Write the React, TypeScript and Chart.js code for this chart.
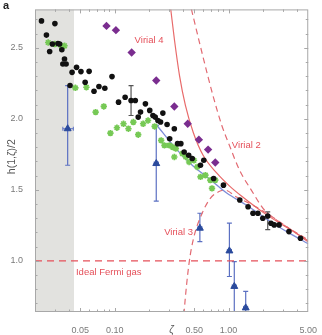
import { useEffect, useRef } from 'react';
import { Chart, registerables } from 'chart.js';

Chart.register(...registerables);

// ---------- axes ----------
const X_MIN = 0.02;
const X_MAX = 5;
const Y_MIN = 0.64;
const Y_MAX = 2.77;
const SHADE_END = 0.044;

const X_TICKS = [0.02, 0.03, 0.04, 0.05, 0.06, 0.07, 0.08, 0.09, 0.1, 0.2, 0.3, 0.4, 0.5, 0.6, 0.7, 0.8, 0.9, 1, 2, 3, 4, 5];
const X_LABEL_VALUES = [0.05, 0.1, 0.5, 1, 5];
const X_LABELS = ['0.05', '0.10', '0.50', '1.00', '5.00'];
const Y_TICKS = [0.7, 0.8, 0.9, 1.0, 1.1, 1.2, 1.3, 1.4, 1.5, 1.6, 1.7, 1.8, 1.9, 2.0, 2.1, 2.2, 2.3, 2.4, 2.5, 2.6, 2.7];
const Y_LABEL_VALUES = [1.0, 1.5, 2.0, 2.5];
const Y_LABELS = ['1.0', '1.5', '2.0', '2.5'];

// ---------- black dots ----------
const BLACK_X = [0.0228, 0.0252, 0.0299, 0.0269, 0.0284, 0.0318, 0.0329, 0.0344, 0.0363, 0.0351, 0.0375, 0.0406, 0.0423, 0.0463, 0.0506, 0.0551, 0.0597, 0.0659, 0.0728, 0.082, 0.0948, 0.1082, 0.1236, 0.1393, 0.1518, 0.161, 0.1687, 0.1862, 0.2032, 0.2168, 0.227, 0.2398, 0.2529, 0.2649, 0.2885, 0.334, 0.304, 0.3565, 0.381, 0.4075, 0.4466, 0.4797, 0.5664, 0.606, 0.739, 0.9015, 1.254, 1.482, 1.637, 1.808, 1.996, 2.205, 2.355, 2.513, 2.774, 3.386, 4.276];
const BLACK_Y = [2.689, 2.589, 2.67, 2.474, 2.526, 2.53, 2.526, 2.486, 2.421, 2.386, 2.386, 2.234, 2.327, 2.362, 2.332, 2.257, 2.334, 2.194, 2.227, 2.215, 2.297, 2.117, 2.152, 2.129, 2.129, 2.012, 2.047, 2.105, 2.059, 2.023, 2.012, 1.988, 1.977, 2.04, 1.96, 1.93, 1.86, 1.825, 1.825, 1.766, 1.743, 1.72, 1.673, 1.708, 1.58, 1.533, 1.428, 1.381, 1.335, 1.335, 1.3, 1.316, 1.265, 1.253, 1.253, 1.206, 1.159];
const BLACK_ERR_X = [0.1393, 2.205];
const BLACK_ERR_LO = [2.023, 1.22];
const BLACK_ERR_HI = [2.234, 1.345];

// ---------- green stars ----------
const GREEN_X = [0.0261, 0.0298, 0.034, 0.0363, 0.0452, 0.0565, 0.0681, 0.0803, 0.0918, 0.1047, 0.1196, 0.1321, 0.1459, 0.161, 0.1778, 0.1964, 0.2244, 0.256, 0.2736, 0.302, 0.323, 0.334, 0.3445, 0.3937, 0.421, 0.45, 0.4969, 0.531, 0.567, 0.626, 0.691, 0.764, 0.715];
const GREEN_Y = [2.537, 2.526, 2.514, 2.514, 2.218, 2.222, 2.047, 2.087, 1.899, 1.937, 1.965, 1.93, 1.977, 1.888, 1.965, 1.988, 1.946, 1.848, 1.813, 1.813, 1.801, 1.731, 1.79, 1.755, 1.731, 1.696, 1.708, 1.661, 1.591, 1.603, 1.568, 1.568, 1.51];

// ---------- purple diamonds ----------
const PURPLE_X = [0.0848, 0.1026, 0.141, 0.2318, 0.334, 0.4377, 0.5485, 0.661, 0.764];
const PURPLE_Y = [2.654, 2.624, 2.467, 2.269, 2.087, 1.965, 1.853, 1.783, 1.692];

// ---------- blue triangles with error bars ----------
const BLUE_X = [0.0387, 0.2318, 0.5597, 1.0165, 1.122, 1.413];
const BLUE_Y = [1.93, 1.685, 1.23, 1.07, 0.82, 0.669];
const BLUE_YLO = [1.673, 1.421, 1.136, 0.89, 0.6, 0.6];
const BLUE_YHI = [2.234, 1.953, 1.335, 1.265, 0.995, 0.785];
const BLUE_XLO = [0.0351, 0.222, 0.537, 0.975, 1.075, 1.355];
const BLUE_XHI = [0.0434, 0.242, 0.583, 1.06, 1.17, 1.47];

// ---------- theory curves ----------
const V4_X = [0.3105, 0.3357, 0.3709, 0.4179, 0.4897, 0.5974, 0.789, 1.021, 1.297, 2.05, 3.3, 5.0];
const V4_Y = [2.773, 2.549, 2.304, 2.094, 1.904, 1.743, 1.617, 1.526, 1.456, 1.336, 1.231, 1.141];
const V2_X = [0.471, 0.598, 0.729, 0.872, 1.0165, 1.248, 1.583, 2.06, 2.7, 5.0];
const V2_Y = [2.773, 2.432, 2.164, 1.953, 1.813, 1.638, 1.498, 1.358, 1.281, 1.148];
const V3_X = [0.4, 0.4075, 0.45, 0.497, 0.586, 0.691, 0.816, 0.924, 1.175, 1.75, 3.17, 5.0];
const V3_Y = [0.55, 0.645, 0.984, 1.171, 1.335, 1.44, 1.486, 1.498, 1.449, 1.379, 1.246, 1.134];
const BLUE_LINE_X = [0.2318, 0.3445, 0.4797, 0.67, 0.962, 1.43, 2.355, 3.5, 5.0];
const BLUE_LINE_Y = [1.96, 1.79, 1.673, 1.58, 1.477, 1.393, 1.274, 1.19, 1.12];
const IDEAL_Y = 1.0;

// ---------- annotations ----------
const TEXT_LABELS = ['Virial 4', 'Virial 2', 'Virial 3', 'Ideal Fermi gas'];
const TEXT_X = [0.2004, 1.43, 0.364, 0.0887];
const TEXT_Y = [2.549, 1.813, 1.197, 0.916];

const FONT = '"Liberation Sans", Arial, sans-serif';
const RED = '#e5505a';
const TICK_COLOR = '#7a7a7a';

const pts = (xs: number[], ys: number[]) => xs.map((x, i) => ({ x, y: ys[i] }));

const decor = {
  id: 'decor',
  beforeDatasetsDraw(chart: any) {
    const { ctx, chartArea: a, scales } = chart;
    const xs = scales.x, ys = scales.y;
    ctx.save();
    ctx.beginPath();
    ctx.rect(a.left, a.top, a.right - a.left, a.bottom - a.top);
    ctx.clip();
    const x0 = xs.getPixelForValue(X_MIN), x1 = xs.getPixelForValue(SHADE_END);
    ctx.fillStyle = '#e2e2df';
    ctx.fillRect(x0, a.top, x1 - x0, a.bottom - a.top);

    const vbar = (xv: number, lo: number, hi: number, color: string, cap: number) => {
      const px = xs.getPixelForValue(xv);
      const p1 = ys.getPixelForValue(lo), p2 = ys.getPixelForValue(hi);
      ctx.strokeStyle = color;
      ctx.lineWidth = 1.2;
      ctx.beginPath();
      ctx.moveTo(px, p1); ctx.lineTo(px, p2);
      ctx.moveTo(px - cap, p1); ctx.lineTo(px + cap, p1);
      ctx.moveTo(px - cap, p2); ctx.lineTo(px + cap, p2);
      ctx.stroke();
    };
    const hbar = (yv: number, lo: number, hi: number, color: string, cap: number) => {
      const py = ys.getPixelForValue(yv);
      const p1 = xs.getPixelForValue(lo), p2 = xs.getPixelForValue(hi);
      ctx.strokeStyle = color;
      ctx.lineWidth = 1;
      ctx.beginPath();
      ctx.moveTo(p1, py); ctx.lineTo(p2, py);
      ctx.moveTo(p1, py - cap); ctx.lineTo(p1, py + cap);
      ctx.moveTo(p2, py - cap); ctx.lineTo(p2, py + cap);
      ctx.stroke();
    };
    BLUE_X.forEach((xv, i) => {
      vbar(xv, BLUE_YLO[i], BLUE_YHI[i], '#5b70c2', 2.5);
      hbar(BLUE_Y[i], BLUE_XLO[i], BLUE_XHI[i], '#5b70c2', 2);
    });
    BLACK_ERR_X.forEach((xv, i) => vbar(xv, BLACK_ERR_LO[i], BLACK_ERR_HI[i], '#555', 2.5));
    ctx.restore();
  },
  afterDraw(chart: any) {
    const { ctx, chartArea: a, scales } = chart;
    const xs = scales.x, ys = scales.y;
    ctx.save();
    // frame
    ctx.strokeStyle = '#a8a8a8';
    ctx.lineWidth = 1;
    ctx.strokeRect(a.left + 0.5, a.top + 0.5, a.right - a.left - 1, a.bottom - a.top - 1);
    // inward ticks
    ctx.beginPath();
    X_TICKS.forEach((v) => {
      if (v <= X_MIN || v >= X_MAX) return;
      const major = X_LABEL_VALUES.some((m) => Math.abs(m - v) < 1e-9);
      const len = major ? 4 : 2.5;
      const px = Math.round(xs.getPixelForValue(v)) + 0.5;
      ctx.moveTo(px, a.bottom); ctx.lineTo(px, a.bottom - len);
      ctx.moveTo(px, a.top); ctx.lineTo(px, a.top + len);
    });
    Y_TICKS.forEach((v) => {
      const major = Y_LABEL_VALUES.some((m) => Math.abs(m - v) < 1e-9);
      const len = major ? 4 : 2.5;
      const py = Math.round(ys.getPixelForValue(v)) + 0.5;
      ctx.moveTo(a.left, py); ctx.lineTo(a.left + len, py);
      ctx.moveTo(a.right, py); ctx.lineTo(a.right - len, py);
    });
    ctx.stroke();

    // curve labels
    ctx.fillStyle = RED;
    ctx.font = `9.5px ${FONT}`;
    ctx.textAlign = 'center';
    ctx.textBaseline = 'middle';
    TEXT_LABELS.forEach((t, i) => {
      ctx.fillText(t, xs.getPixelForValue(TEXT_X[i]), ys.getPixelForValue(TEXT_Y[i]));
    });

    // axis titles
    ctx.fillStyle = '#555';
    ctx.font = `italic 10px ${FONT}`;
    ctx.fillText('ζ', (a.left + a.right) / 2, 330);
    ctx.save();
    ctx.translate(12, (a.top + a.bottom) / 2 - 4);
    ctx.rotate(-Math.PI / 2);
    ctx.font = `10.5px ${FONT}`;
    ctx.fillText('h(1,ζ)/2', 0, 0);
    ctx.restore();

    // panel letter
    ctx.fillStyle = '#222';
    ctx.font = `bold 11px ${FONT}`;
    ctx.textAlign = 'left';
    ctx.fillText('a', 3, 6);
    ctx.restore();
  },
};

export default function App() {
  const ref = useRef<HTMLCanvasElement | null>(null);
  useEffect(() => {
    document.body.style.margin = '0';
    const canvas = ref.current;
    if (!canvas) return;
    const line = (xs: number[], ys: number[], color: string, dash: number[], width = 1.2) => ({
      data: pts(xs, ys),
      showLine: true,
      pointRadius: 0,
      borderColor: color,
      borderWidth: width,
      borderDash: dash,
      cubicInterpolationMode: 'monotone',
      fill: false,
    });
    const chart = new Chart(canvas, {
      type: 'scatter',
      data: {
        datasets: [
          {
            data: pts(BLUE_X, BLUE_Y), pointStyle: 'triangle', pointRadius: 4,
            backgroundColor: '#2a4a9c', borderColor: '#2a4a9c', borderWidth: 1,
          },
          {
            data: pts(BLACK_X, BLACK_Y), pointStyle: 'circle', pointRadius: 2.8,
            backgroundColor: '#111', borderColor: '#111', borderWidth: 0,
          },
          {
            data: pts(PURPLE_X, PURPLE_Y), pointStyle: 'rectRot', pointRadius: 4.2,
            backgroundColor: '#7a2d8f', borderColor: '#7a2d8f', borderWidth: 0,
          },
          {
            data: pts(GREEN_X, GREEN_Y), pointStyle: 'star', pointRadius: 3.2,
            backgroundColor: '#76c955', borderColor: '#76c955', borderWidth: 1.7,
          },
          line(BLUE_LINE_X, BLUE_LINE_Y, '#7d8cd8', [], 1.3),
          line(V4_X, V4_Y, '#e86a6a', [], 1.2),
          line(V2_X, V2_Y, '#e26a72', [6, 4], 1.2),
          line(V3_X, V3_Y, '#e26a72', [6, 4], 1.2),
          line([X_MIN, X_MAX], [IDEAL_Y, IDEAL_Y], RED, [7, 5], 1.2),
        ] as any,
      },
      options: {
        animation: false,
        responsive: false,
        events: [],
        layout: { padding: { top: 8, right: 9, left: 0, bottom: 0 } },
        plugins: { legend: { display: false }, tooltip: { enabled: false } },
        scales: {
          x: {
            type: 'logarithmic',
            min: X_MIN,
            max: X_MAX,
            grid: { display: false },
            border: { display: false },
            afterBuildTicks: (s: any) => { s.ticks = X_TICKS.map((v) => ({ value: v })); },
            afterFit: (s: any) => { s.height = 23; },
            ticks: {
              autoSkip: false,
              maxRotation: 0,
              padding: 5,
              color: TICK_COLOR,
              font: { size: 9, family: FONT },
              callback: (v: any) => {
                const i = X_LABEL_VALUES.findIndex((m) => Math.abs(m - Number(v)) < 1e-9);
                return i >= 0 ? X_LABELS[i] : '';
              },
            },
          },
          y: {
            type: 'linear',
            min: Y_MIN,
            max: Y_MAX,
            grid: { display: false },
            border: { display: false },
            afterBuildTicks: (s: any) => { s.ticks = Y_TICKS.map((v) => ({ value: v })); },
            afterFit: (s: any) => { s.width = 35; },
            ticks: {
              autoSkip: false,
              padding: 4,
              color: TICK_COLOR,
              font: { size: 9, family: FONT },
              callback: (v: any) => {
                const i = Y_LABEL_VALUES.findIndex((m) => Math.abs(m - Number(v)) < 1e-9);
                return i >= 0 ? Y_LABELS[i] : '';
              },
            },
          },
        },
      } as any,
      plugins: [decor],
    });
    return () => chart.destroy();
  }, []);
  return <canvas ref={ref} width={322} height={335} style={{ display: 'block' }} />;
}
